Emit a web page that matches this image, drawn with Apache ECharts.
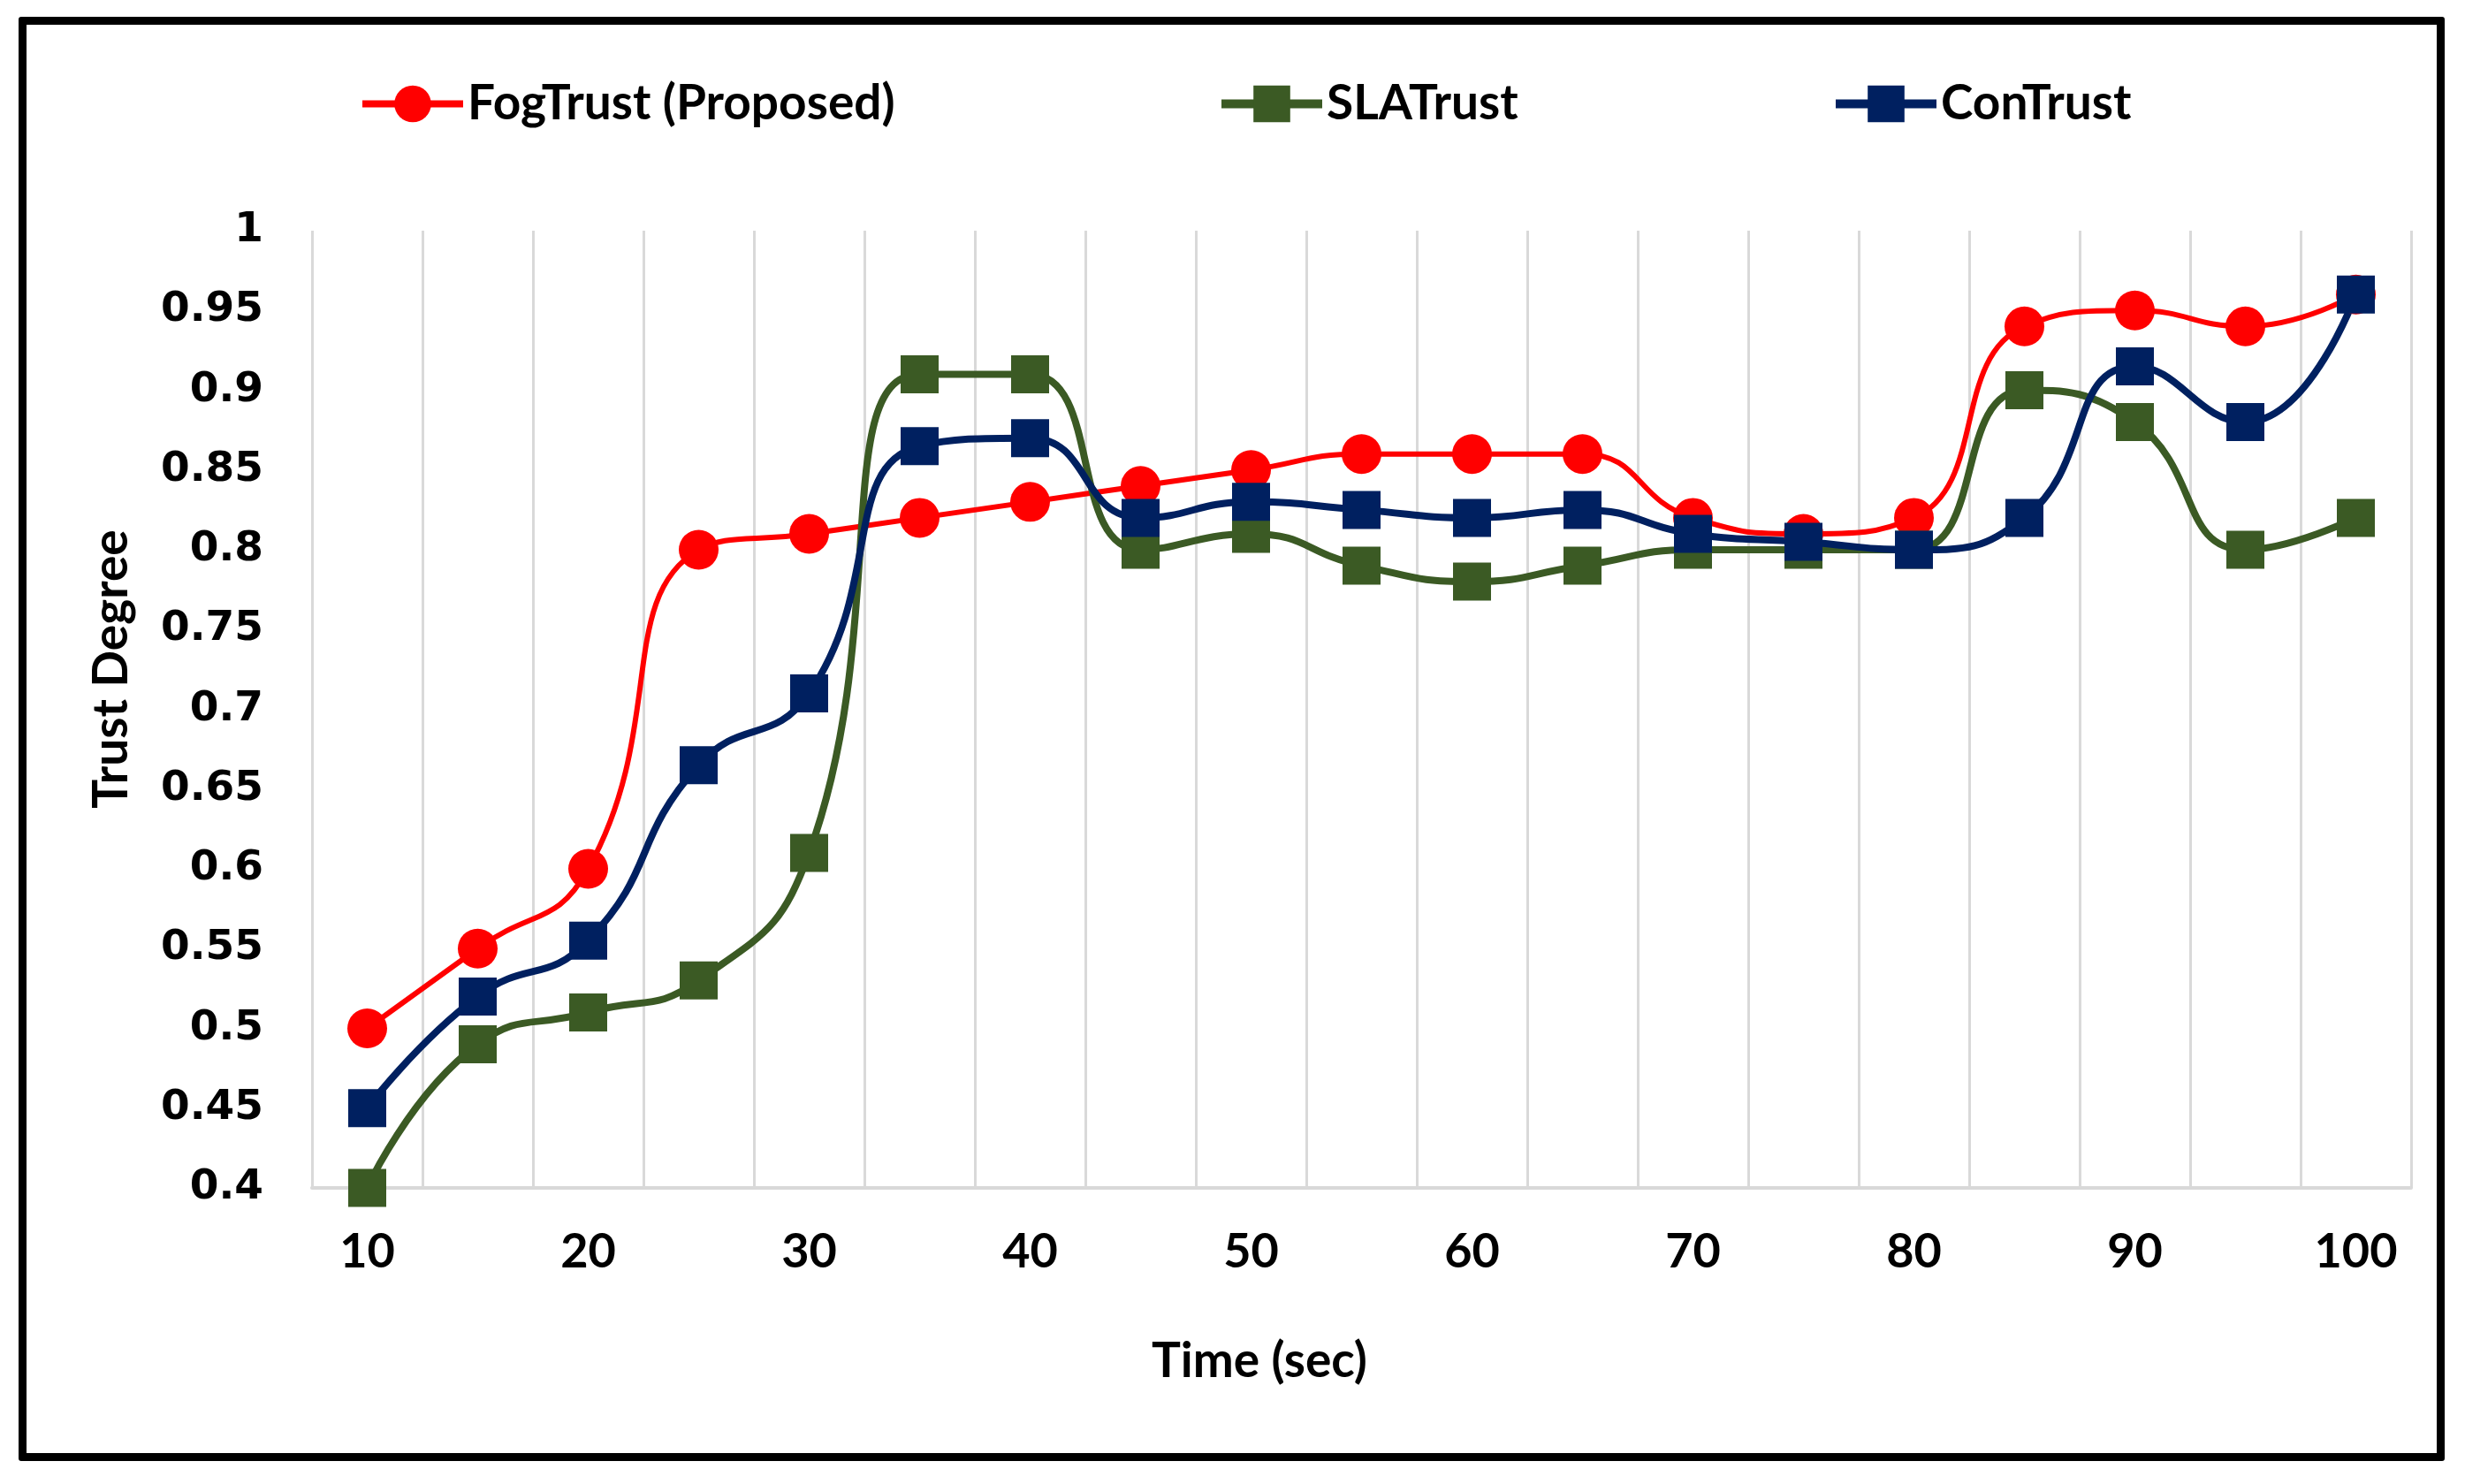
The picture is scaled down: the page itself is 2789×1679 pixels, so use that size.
<!DOCTYPE html>
<html>
<head>
<meta charset="utf-8">
<script src="https://cdn.jsdelivr.net/npm/echarts@6/dist/echarts.min.js"></script>
<style>
html,body{margin:0;padding:0;background:#fff;}
#frame{position:absolute;left:21px;top:19px;width:2727px;height:1616px;border:9px solid #000;border-radius:3px;}
#chart{position:absolute;left:0;top:0;width:2789px;height:1679px;}
</style>
</head>
<body>
<div id="frame"></div>
<div id="chart"></div>
<script>
const categories = ['10','15','20','25','30','35','40','45','50','55','60','65','70','75','80','85','90','95','100'];
const fogTrust = [0.50,0.55,0.60,0.80,0.81,0.82,0.83,0.84,0.85,0.86,0.86,0.86,0.82,0.81,0.82,0.94,0.95,0.94,0.96];
const slaTrust = [0.40,0.49,0.51,0.53,0.61,0.91,0.91,0.80,0.81,0.79,0.78,0.79,0.80,0.80,0.80,0.90,0.88,0.80,0.82];
const conTrust = [0.45,0.52,0.555,0.665,0.71,0.865,0.87,0.82,0.83,0.825,0.82,0.825,0.81,0.805,0.80,0.82,0.915,0.88,0.96];
const seriesNames = ['FogTrust (Proposed)','SLATrust','ConTrust'];
const yMin = 0.4, yMax = 1, yStep = 0.05;
const xTitle = 'Time (sec)';
const yTitle = 'Trust Degree';

const chart = echarts.init(document.getElementById('chart'), null, {renderer:'canvas'});
const legendText = {fontFamily:'Lato', fontWeight:'bold', fontSize:55, color:'#000', padding:[0,0,0,0]};
function legend(name, left, width){
  return {data:[name], left:left, top:85, itemWidth:114, itemHeight:52, textStyle:legendText,
    selectedMode:false, lineStyle:{width:width}};
}
chart.setOption({
  animation:false,
  backgroundColor:'transparent',
  legend:[legend(seriesNames[0],401,8), legend(seriesNames[1],1372,10), legend(seriesNames[2],2067,10)],
  grid:{left:353, right:61, top:261, bottom:335, containLabel:false},
  xAxis:{
    type:'category', data:categories, boundaryGap:true,
    axisLine:{show:true, lineStyle:{color:'#d9d9d9', width:4}},
    axisTick:{show:false},
    axisLabel:{interval:1, margin:46, fontFamily:'Lato', fontWeight:'bold', fontSize:54, color:'#000'},
    splitLine:{show:true, interval:0, lineStyle:{color:'#d9d9d9', width:3}}
  },
  yAxis:{
    type:'value', min:yMin, max:yMax, interval:yStep,
    axisLine:{show:false}, axisTick:{show:false}, splitLine:{show:false},
    axisLabel:{margin:55, fontFamily:'DejaVu Sans', fontWeight:'bold', fontSize:47, color:'#000',
      formatter:v => String(+v.toFixed(2))}
  },
  graphic:[
    {type:'text', x:1425, y:1540, style:{text:xTitle, fontFamily:'Lato', fontWeight:'bold', fontSize:55, fill:'#000', textAlign:'center', textVerticalAlign:'middle'}},
    {type:'text', x:126, y:757, rotation:Math.PI/2, style:{text:yTitle, fontFamily:'Lato', fontWeight:'bold', fontSize:55, fill:'#000', textAlign:'center', textVerticalAlign:'middle'}}
  ],
  series:[
    {name:seriesNames[0], type:'line', data:fogTrust, smooth:0.5, symbol:'circle', symbolSize:45,
      itemStyle:{color:'#ff0000'}, lineStyle:{color:'#ff0000', width:6}},
    {name:seriesNames[1], type:'line', data:slaTrust, smooth:0.5, symbol:'rect', symbolSize:43,
      itemStyle:{color:'#3b5a24'}, lineStyle:{color:'#3b5a24', width:8}},
    {name:seriesNames[2], type:'line', data:conTrust, smooth:0.5, symbol:'rect', symbolSize:43,
      itemStyle:{color:'#002060'}, lineStyle:{color:'#002060', width:8}}
  ]
});
</script>
</body>
</html>
